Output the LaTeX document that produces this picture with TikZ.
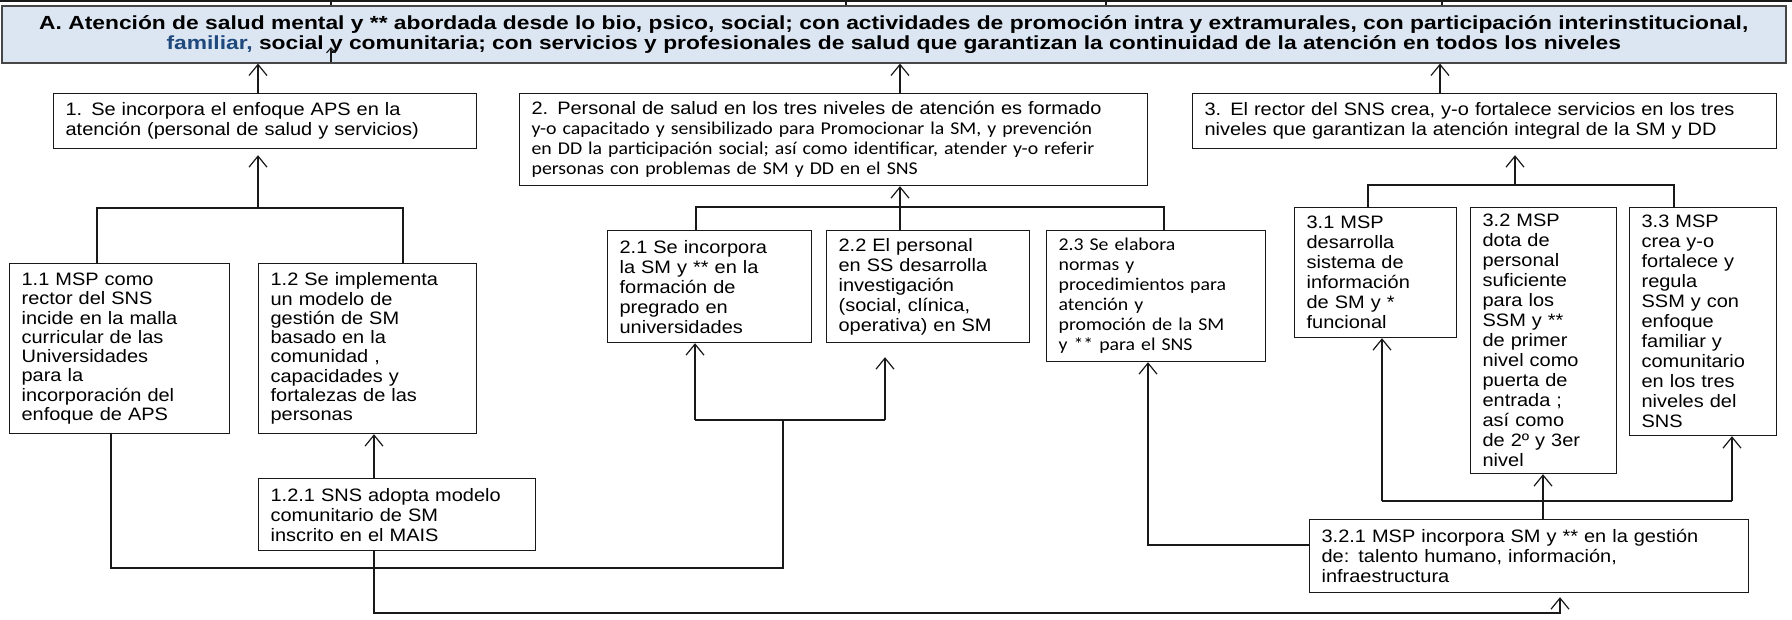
\documentclass[tikz,border=0pt]{standalone}
\usepackage{fontspec}
\setmainfont{Liberation Sans}[FakeStretch=1.11]
\newfontfamily\calfont{Carlito}[FakeStretch=1.1]
\newfontfamily\goalfont{Liberation Sans}[FakeStretch=1.2]
\usepackage{xcolor}
\usepackage{tikz}
\usetikzlibrary{arrows.meta, positioning, calc}
\definecolor{SMGoalFill}{RGB}{220, 230, 242}
\definecolor{SMGoalLine}{RGB}{70, 70, 70}
\definecolor{SMBlue}{RGB}{31, 73, 125}
\definecolor{SMLine}{RGB}{25, 25, 25}

\tikzset{
  blk/.style={draw=SMLine, line width=1.2pt, anchor=north west, align=left,
              inner xsep=12pt, inner ysep=0pt, text=black,
              font=\fontsize{18}{20}\selectfont},
  goalbox/.style={blk, draw=SMGoalLine, line width=1.6pt, fill=SMGoalFill,
                  align=center, inner xsep=4pt, font=\goalfont\fontsize{19}{20}\selectfont\bfseries},
  link/.style={draw=SMLine, line width=1.2pt},
  up/.style={link, -{Straight Barb[length=11pt, width=18pt, line width=1.2pt]}},
}

\begin{document}
\begin{tikzpicture}[x=1pt, y=-1pt]
    \useasboundingbox (0,0) rectangle (1792,620);

    % goal
    \node[goalbox, text width=1776pt, minimum height=57pt] (goal) at (1,5) {
      A. Atención de salud mental  y ** abordada desde lo bio, psico, social;  con actividades de promoción  intra y extramurales, con participación  interinstitucional,\\
      {\color{SMBlue}familiar,} social  y comunitaria;  con servicios y profesionales de salud que garantizan la continuidad de la atención en todos los niveles};

    % cut-off lines above the goal
    \coordinate (topL) at (0,1);
    \coordinate (topR) at (1792,1);
    \draw[link] (topL) -- (topR);
    \foreach \x in {331,846,1106,1442}
      \draw[link] (\x,1) -- (\x,5);
    \coordinate (g0) at (331,62);
    \coordinate (g1) at (331,47);
    \draw[link, -{Straight Barb[length=5pt, width=9pt]}] (g0) -- (g1);

    % level 1
    \node[blk, text width=399pt, minimum height=55pt] (b1) at (53,93) {
      1. Se incorpora  el enfoque  APS en la\\
      atención  (personal  de salud y servicios)};
    \node[blk, text width=604pt, minimum height=92pt] (b2) at (519,93) {
      2. Personal  de salud en los tres niveles  de atención es formado\\
      {\calfont y-o capacitado y sensibilizado para Promocionar la SM, y prevención}\\
      {\calfont en DD la participación social; así como identificar,  atender y-o referir}\\
      {\calfont personas con problemas de SM y DD en el SNS}};
    \node[blk, text width=560pt, minimum height=55pt] (b3) at (1192,93) {
      3. El rector del SNS crea,  y-o fortalece  servicios en los tres\\
      niveles que garantizan la atención integral de la SM y DD};

    % level 2
    \node[blk, text width=196pt, minimum height=170pt, font=\fontsize{18}{19.3}\selectfont] (b11) at (9,263) {
      1.1  MSP como\\rector del SNS\\incide en la malla\\curricular de las\\Universidades\\para la\\incorporación del\\enfoque  de APS};
    \node[blk, text width=194pt, minimum height=170pt, font=\fontsize{18}{19.3}\selectfont] (b12) at (258,263) {
      1.2 Se implementa\\un modelo de\\gestión de SM\\basado en la\\comunidad ,\\capacidades y\\fortalezas de las\\personas};
    \node[blk, text width=253pt, minimum height=72pt] (b121) at (258,478) {
      1.2.1 SNS adopta modelo\\comunitario de SM\\inscrito en el MAIS};

    \node[blk, text width=180pt, minimum height=112pt] (b21) at (607,230) {
      2.1 Se incorpora\\la SM y ** en la\\formación de\\pregrado en\\universidades};
    \node[blk, text width=179pt, minimum height=112pt] (b22) at (826,230) {
      2.2  El personal\\en SS desarrolla\\investigación\\(social, clínica,\\operativa)  en SM};
    \node[blk, text width=195pt, minimum height=131pt, font=\calfont\fontsize{18}{20}\selectfont] (b23) at (1046,230) {
      2.3 Se elabora\\normas y\\procedimientos para\\atención y\\promoción de la SM\\y ** para el SNS};

    \node[blk, text width=138pt, minimum height=130pt] (b31) at (1294,207) {
      3.1 MSP\\desarrolla\\sistema de\\información\\de SM y *\\funcional};
    \node[blk, text width=122pt, minimum height=266pt] (b32) at (1470,207) {
      3.2  MSP\\dota de\\personal\\suficiente\\para los\\SSM y **\\de primer\\nivel  como\\puerta de\\entrada ;\\así como\\de 2º y 3er\\nivel};
    \node[blk, text width=123pt, minimum height=228pt] (b33) at (1629,207) {
      3.3 MSP\\crea y-o\\fortalece y\\regula\\SSM y  con\\enfoque\\familiar y\\comunitario\\en los tres\\niveles del\\SNS};
    \node[blk, text width=415pt, minimum height=73pt] (b321) at (1309,519) {
      3.2.1 MSP incorpora  SM y ** en  la gestión\\
      de: talento humano, información,\\
      infraestructura};

    % level 1 -> goal
    \coordinate (j1) at (258,208);
    \coordinate (j2) at (900,207);
    \coordinate (j3) at (1515,185);
    \coordinate (a3) at (1440,93);
    \draw[up] (j1 |- b1.north) -- (j1 |- goal.south);
    \draw[up] (j2 |- b2.north) -- (j2 |- goal.south);
    \draw[up] (a3 |- b3.north) -- (a3 |- goal.south);

    % branches
    \coordinate (j1a) at (97,208);
    \coordinate (j1b) at (403,208);
    \draw[link] (b11.north -| j1a) |- (j1b) -- (j1b |- b12.north);
    \draw[up, shorten >=6pt] (j1) -- (j1 |- b1.south);

    \coordinate (j2a) at (696,207);
    \coordinate (j2b) at (1164,207);
    \draw[link] (b21.north -| j2a) |- (j2b) -- (j2b |- b23.north);
    \draw[up] (j2 |- b22.north) -- (j2 |- b2.south);

    \coordinate (j3a) at (1368,185);
    \coordinate (j3b) at (1674,185);
    \draw[link] (b31.north -| j3a) |- (j3b) -- (j3b |- b33.north);
    \draw[up, shorten >=6pt] (j3) -- (j3 |- b3.south);

    % lower links
    \coordinate (k1) at (374,613);
    \coordinate (k2) at (1560,613);
    \draw[up] (k1 |- b121.north) -- (k1 |- b12.south);
    \draw[up, shorten >=4pt] (k1 |- b121.south) -- (k1) -- (k2) -- (k2 |- b321.south);

    \coordinate (k3) at (111,568);
    \coordinate (m1) at (783,568);
    \coordinate (m2) at (783,420);
    \coordinate (m3) at (695,420);
    \coordinate (m4) at (885,420);
    \draw[link] (k3 |- b11.south) -- (k3) -- (m1) -- (m2);
    \draw[link] (m3) -- (m4);
    \draw[up] (m3) -- (m3 |- b21.south);
    \draw[up, shorten >=14pt] (m4) -- (m4 |- b22.south);

    \coordinate (n1) at (1148,545);
    \draw[up] (n1 -| b321.west) -- (n1) -- (n1 |- b23.south);

    \coordinate (p0) at (1543,501);
    \coordinate (p1) at (1382,501);
    \coordinate (p2) at (1732,501);
    \draw[up] (p0 |- b321.north) -- (p0 |- b32.south);
    \draw[link] (p1) -- (p2);
    \draw[up] (p1) -- (p1 |- b31.south);
    \draw[up] (p2) -- (p2 |- b33.south);
\end{tikzpicture}
\end{document}
